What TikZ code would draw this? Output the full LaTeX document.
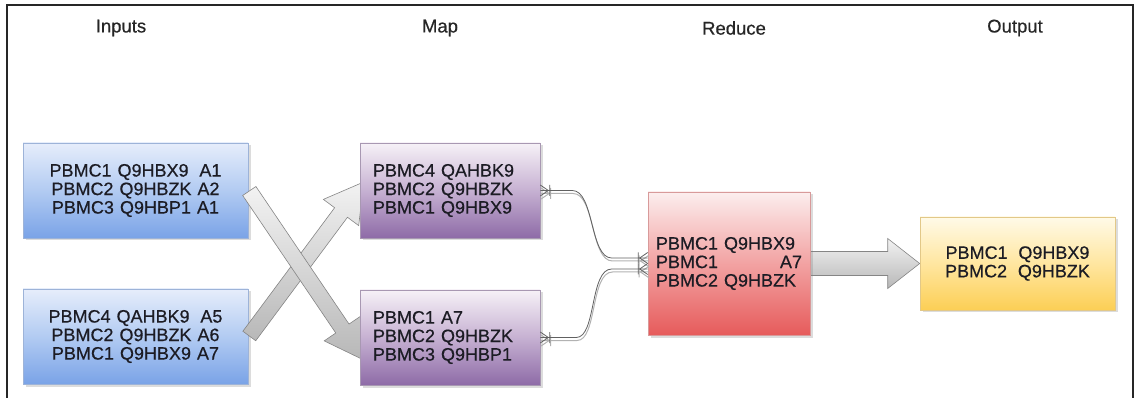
\documentclass[tikz,border=0pt]{standalone}
\usepackage{fontspec}
\setmainfont{Liberation Sans}
\newfontfamily\boxfont{Liberation Sans}[FakeBold=0.5]
\usetikzlibrary{calc,shadows,arrows.meta}

% box palettes
\definecolor{inTop}{HTML}{E6EDFB}
\definecolor{inMid}{HTML}{B2CBF2}
\definecolor{inBot}{HTML}{7AA3E7}
\definecolor{inLine}{HTML}{9DB3D8}
\definecolor{mapTop}{HTML}{F6F1F7}
\definecolor{mapMid}{HTML}{C6B1D2}
\definecolor{mapBot}{HTML}{8E6BA7}
\definecolor{mapLine}{HTML}{A898B2}
\definecolor{redTop}{HTML}{FCEEEE}
\definecolor{redMid}{HTML}{F2A2A2}
\definecolor{redBot}{HTML}{E65B5B}
\definecolor{redLine}{HTML}{D89A9A}
\definecolor{outTop}{HTML}{FFFAE8}
\definecolor{outMid}{HTML}{FFE6A0}
\definecolor{outBot}{HTML}{FCCF55}
\definecolor{outLine}{HTML}{E2C888}
\definecolor{inkText}{HTML}{1C1C24}

% crow's foot end: three prongs meeting the box plus a bar
\pgfdeclarearrow{
  name = Crow,
  setup code = {
    \pgfarrowssettipend{0pt}
    \pgfarrowssetlineend{0pt}
    \pgfarrowssetbackend{-10pt}
    \pgfarrowssetvisualbackend{-10pt}
  },
  drawing code = {
    \pgfsetdash{}{0pt}
    \pgfpathmoveto{\pgfqpoint{0pt}{5.5pt}}
    \pgfpathlineto{\pgfqpoint{-8pt}{0pt}}
    \pgfpathlineto{\pgfqpoint{0pt}{-5.5pt}}
    \pgfpathmoveto{\pgfqpoint{-9.5pt}{5.5pt}}
    \pgfpathlineto{\pgfqpoint{-9.5pt}{-5.5pt}}
    \pgfusepathqstroke
  }
}

% wide hollow arrow from tail #1 to tip #2:
% #3 half shaft width, #4 half head width, #5 head length, #6 style
\newcommand{\blockarrow}[6]{%
  \path ($#2!#5!#1$) coordinate (ba-base);
  \draw[#6] ($#1!#3!90:#2$) -- ($(ba-base)!#3!90:#2$) -- ($(ba-base)!#4!90:#2$)
    -- #2 -- ($(ba-base)!#4!-90:#2$) -- ($(ba-base)!#3!-90:#2$)
    -- ($#1!#3!-90:#2$) -- cycle;
}

\pgfdeclarelayer{bg}
\pgfdeclarelayer{mid}
\pgfsetlayers{bg,mid,main}

\begin{document}
\begin{tikzpicture}[x=1pt,y=-1pt,
  every node/.style={font=\boxfont\fontsize{18}{18.5}\selectfont, text=inkText},
  title/.style={font=\boxfont\fontsize{18.5}{20}\selectfont, text=black!85},
  box/.style={rectangle, inner ysep=0pt, line width=0.6pt,
    drop shadow={shadow xshift=2.5pt, shadow yshift=-2.5pt, opacity=0.28}},
  inbox/.style={box, minimum height=95pt, text width=205pt, inner xsep=10pt,
    align=center, draw=inLine, top color=inTop, bottom color=inBot, middle color=inMid},
  mapbox/.style={box, minimum height=95pt, text width=154pt, inner xsep=13pt,
    align=left, draw=mapLine, top color=mapTop, bottom color=mapBot, middle color=mapMid},
  redbox/.style={box, minimum height=143pt, text width=146pt, inner xsep=8pt,
    align=left, draw=redLine, top color=redTop, bottom color=redBot, middle color=redMid},
  outbox/.style={box, minimum height=93pt, text width=175pt, inner xsep=10pt,
    align=center, draw=outLine, top color=outTop, bottom color=outBot, middle color=outMid},
  fatarrow/.style={draw=black!48, line width=0.6pt, line join=miter,
    top color=black!5, bottom color=black!28},
  linkline/.style={draw=black!62, line width=0.8pt, Crow-Crow},
  shadowline/.style={draw=black!30, line width=1pt, Crow-Crow},
  frame/.style={draw=black!85, line width=1.2pt}
]
\useasboundingbox (0,0) rectangle (1136,398);

% outer frame, open at the bottom
\draw[frame] (7,398) -- (7,5) -- (1133,5) -- (1133,398);

% column headings
\node[title] (hIn)  at (121,28)  {Inputs};
\node[title] (hMap) at (440,28)  {Map};
\node[title] (hRed) at (734,28)  {Reduce};
\node[title] (hOut) at (1015,28) {Output};

% input splits sit below the crossing arrows
\begin{pgfonlayer}{bg}
\node[inbox] (in1) at (135.5,190.5)
  {PBMC1 Q9HBX9\hspace{0.6em}A1\\PBMC2 Q9HBZK A2\\PBMC3 Q9HBP1 A1};
\node[inbox] (in2) at (135.5,336.5)
  {PBMC4 QAHBK9\hspace{0.6em}A5\\PBMC2 Q9HBZK A6\\PBMC1 Q9HBX9 A7};
\end{pgfonlayer}

% map outputs
\node[mapbox] (m1) at (450,190.5) {PBMC4 QAHBK9\\PBMC2 Q9HBZK\\PBMC1 Q9HBX9};
\node[mapbox] (m2) at (450,337.5) {PBMC1 A7\\PBMC2 Q9HBZK\\PBMC3 Q9HBP1};

% reduce step
\node[redbox] (r) at (729,263.5)
  {PBMC1 Q9HBX9\\\makebox[\linewidth]{PBMC1\hfill A7}\\PBMC2 Q9HBZK};

% final result
\node[outbox] (o) at (1017.5,263.5)
  {PBMC1\hspace{0.6em}Q9HBX9\\PBMC2\hspace{0.6em}Q9HBZK};

% shuffle arrows between inputs and map, and the arrow to the output
\coordinate (t1) at ($(in1.east)+(1,0.5)$);
\coordinate (h1) at ($(m2.west)+(4,22.5)$);
\coordinate (t2) at ($(in2.east)+(1,-0.5)$);
\coordinate (h2) at ($(m1.west)+(4,-8.5)$);
\begin{pgfonlayer}{mid}
\blockarrow{(t2)}{(h2)}{8pt}{22pt}{38pt}{fatarrow}
\blockarrow{(t1)}{(h1)}{8pt}{22pt}{38pt}{fatarrow}
\blockarrow{(r.east)}{(o.west)}{12pt}{25pt}{32pt}{fatarrow}
\end{pgfonlayer}

% links from the map outputs into reduce, each with a soft double line
\coordinate (rin1) at ($(r.west)+(0,-5.5)$);
\coordinate (rin2) at ($(r.west)+(0,5.5)$);
\begin{scope}[transform canvas={shift={(0.8pt,-3pt)}}]
  \draw[shadowline] (m1.east) -- ++(32,0) .. controls +(22,0) and ($(rin1)+(-58,0)$)
    .. ($(rin1)+(-36,0)$) -- (rin1);
  \draw[shadowline] (m2.east) -- ++(36,0) .. controls +(20,0) and ($(rin2)+(-58,0)$)
    .. ($(rin2)+(-36,0)$) -- (rin2);
\end{scope}
\draw[linkline] (m1.east) -- ++(32,0) .. controls +(22,0) and ($(rin1)+(-58,0)$)
  .. ($(rin1)+(-36,0)$) -- (rin1);
\draw[linkline] (m2.east) -- ++(36,0) .. controls +(20,0) and ($(rin2)+(-58,0)$)
  .. ($(rin2)+(-36,0)$) -- (rin2);
\end{tikzpicture}
\end{document}
